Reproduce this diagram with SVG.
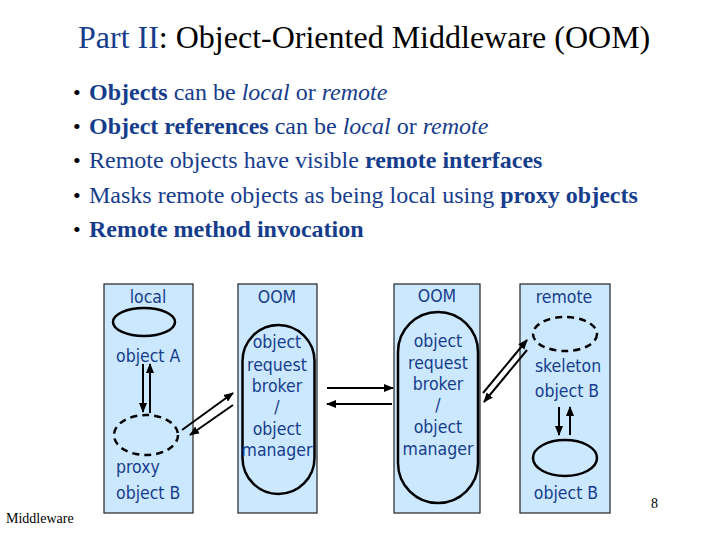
<svg xmlns="http://www.w3.org/2000/svg" width="720" height="540" viewBox="0 0 720 540">
<style>
.title{font-family:"Liberation Serif","Times New Roman",serif;font-size:32px;fill:#000}
.blue{fill:#163d8c}
.bul{font-family:"Liberation Serif","Times New Roman",serif;font-size:24px;fill:#163d8c}
.dot{font-family:"Liberation Serif",serif;font-size:22px;fill:#000}
.b{font-weight:bold}
.i{font-style:italic}
.box{fill:#cce8ff;stroke:#222;stroke-width:1.2}
.lbl{font-family:"DejaVu Sans Condensed","DejaVu Sans",sans-serif;font-size:17.5px;fill:#163d8c}
.mid{text-anchor:middle}
.solid{fill:none;stroke:#000;stroke-width:2.5}
.dash{fill:none;stroke:#000;stroke-width:2.5;stroke-dasharray:7 5}
.arr{stroke:#000;stroke-width:2;fill:none;marker-end:url(#ah)}
.foot{font-family:"Liberation Serif",serif;font-size:14px;fill:#000}
</style>
<defs>
<marker id="ah" viewBox="0 0 10 10" refX="9" refY="5" markerWidth="5" markerHeight="5" orient="auto" markerUnits="strokeWidth">
<path d="M0,1 L10,5 L0,9 z" fill="#000"/>
</marker>
</defs>

<text class="title" x="78" y="48"><tspan class="blue">Part II</tspan>: Object-Oriented Middleware (OOM)</text>

<g id="bullets">
<text class="dot" x="73" y="100">•</text>
<text class="bul" x="89" y="100"><tspan class="b">Objects</tspan> can be <tspan class="i">local</tspan> or <tspan class="i">remote</tspan></text>
<text class="dot" x="73" y="134">•</text>
<text class="bul" x="89" y="134"><tspan class="b">Object references</tspan> can be <tspan class="i">local</tspan> or <tspan class="i">remote</tspan></text>
<text class="dot" x="73" y="168">•</text>
<text class="bul" x="89" y="168">Remote objects have visible <tspan class="b">remote interfaces</tspan></text>
<text class="dot" x="73" y="203">•</text>
<text class="bul" x="89" y="203">Masks remote objects as being local using <tspan class="b">proxy objects</tspan></text>
<text class="dot" x="73" y="237">•</text>
<text class="bul b" x="89" y="237">Remote method invocation</text>
</g>

<g id="local">
<rect class="box" x="104" y="284" width="89" height="229"/>
<text class="lbl mid" x="148" y="303">local</text>
<ellipse class="solid" cx="144" cy="322" rx="31" ry="14"/>
<text class="lbl" x="116" y="362">object A</text>
<ellipse class="dash" cx="146" cy="435" rx="32" ry="20"/>
<text class="lbl" x="116" y="473">proxy</text>
<text class="lbl" x="116" y="499">object B</text>
</g>

<g id="oom-left">
<rect class="box" x="238" y="284" width="79" height="229"/>
<text class="lbl mid" x="277" y="303">OOM</text>
<rect class="solid" x="242.5" y="325" width="72" height="169" rx="36" ry="36"/>
<text class="lbl mid" x="277" y="348">object</text>
<text class="lbl mid" x="277" y="371">request</text>
<text class="lbl mid" x="277" y="392">broker</text>
<text class="lbl mid" x="277" y="413">/</text>
<text class="lbl mid" x="277" y="435">object</text>
<text class="lbl mid" x="277" y="456">manager</text>
</g>

<g id="oom-right">
<rect class="box" x="394" y="284" width="86" height="229"/>
<text class="lbl mid" x="437" y="302">OOM</text>
<rect class="solid" x="398" y="312" width="80" height="191" rx="40" ry="40"/>
<text class="lbl mid" x="438" y="347">object</text>
<text class="lbl mid" x="438" y="369">request</text>
<text class="lbl mid" x="438" y="390">broker</text>
<text class="lbl mid" x="438" y="411">/</text>
<text class="lbl mid" x="438" y="433">object</text>
<text class="lbl mid" x="438" y="455">manager</text>
</g>

<g id="remote">
<rect class="box" x="520" y="284" width="90" height="229"/>
<text class="lbl mid" x="564" y="303">remote</text>
<ellipse class="dash" cx="565" cy="334" rx="32" ry="17"/>
<text class="lbl mid" x="568" y="372">skeleton</text>
<text class="lbl mid" x="567" y="397">object B</text>
<ellipse class="solid" cx="565" cy="458" rx="32" ry="18"/>
<text class="lbl mid" x="566" y="499">object B</text>
</g>

<g id="connectors">
<line class="arr" x1="143" y1="364" x2="143" y2="412"/>
<line class="arr" x1="150" y1="413" x2="150" y2="364"/>
<line class="arr" x1="182" y1="430" x2="233" y2="393"/>
<line class="arr" x1="233" y1="405" x2="190" y2="435"/>
<line class="arr" x1="327" y1="388" x2="393" y2="388"/>
<line class="arr" x1="392" y1="404" x2="327" y2="404"/>
<line class="arr" x1="483" y1="393" x2="527" y2="340"/>
<line class="arr" x1="527" y1="350" x2="484" y2="402"/>
<line class="arr" x1="559" y1="407" x2="559" y2="435"/>
<line class="arr" x1="570" y1="435" x2="570" y2="407"/>
</g>

<text class="foot" x="6" y="523">Middleware</text>
<text class="foot" x="651" y="508">8</text>
</svg>
